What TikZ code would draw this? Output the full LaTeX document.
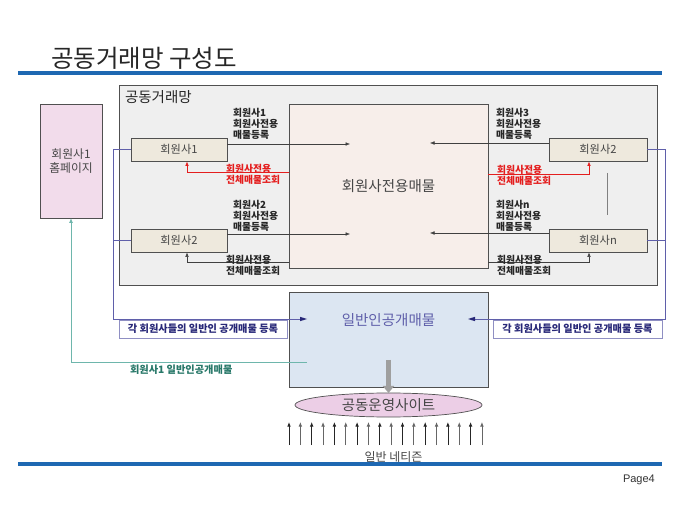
\documentclass[tikz,border=0pt]{standalone}
\usepackage{fontspec}
\setmainfont{Noto Sans CJK KR}
\newfontfamily\latfont{Liberation Sans}
\usetikzlibrary{arrows.meta,shapes.geometric,calc}
\definecolor{bandblue}{RGB}{30,104,178}
\definecolor{outerfill}{RGB}{239,239,239}
\definecolor{centerfill}{RGB}{247,238,234}
\definecolor{memfill}{RGB}{238,233,221}
\definecolor{pinkfill}{RGB}{242,220,235}
\definecolor{pubfill}{RGB}{220,230,242}
\definecolor{ellfill}{RGB}{236,206,230}
\definecolor{slate}{RGB}{95,95,170}
\definecolor{navytxt}{RGB}{40,40,120}
\definecolor{tealline}{RGB}{110,182,172}
\definecolor{tealtxt}{RGB}{40,120,105}
\definecolor{redc}{RGB}{228,30,30}
\definecolor{edge}{RGB}{80,80,80}
\definecolor{txtgray}{RGB}{70,70,70}
\begin{document}
\begin{tikzpicture}[x=1pt,y=-1pt,
  every node/.style={inner sep=0pt,outer sep=0pt},
  boxbase/.style={draw=edge,line width=0.8pt,rectangle},
  membox/.style={boxbase,fill=memfill,minimum width=96pt,minimum height=23pt,
    font=\fontsize{11.2}{13}\selectfont,text=txtgray},
  lbl/.style={font=\bfseries\fontsize{9.8}{11}\selectfont,align=left,anchor=north west,text=black!85},
  redlbl/.style={lbl,text=redc},
  tip/.style={-{Latex[length=4.5pt,width=3.6pt]}},
  flow/.style={tip,line width=0.5pt,draw=black!75},
  redflow/.style={tip,line width=0.7pt,draw=redc},
  blueflow/.style={line width=0.6pt,draw=slate},
  tagbox/.style={draw=slate!70,line width=0.6pt,fill=white,minimum height=18pt,
    font=\bfseries\fontsize{10.2}{11}\selectfont,text=navytxt},
  bigtxt/.style={font=\fontsize{14.5}{16}\selectfont}
]
\useasboundingbox (0,0) rectangle (680,510);
\fill[white] (0,0) rectangle (680,510);

% title and bands
\node[anchor=base west,font=\fontsize{24.5}{26}\selectfont,text=black!85] (title) at (51,67.5) {공동거래망 구성도};
\draw[bandblue,line width=4.2pt] (18,73) -- (662,73);
\draw[bandblue,line width=4.2pt] (18,464) -- (662,464);
\node[anchor=base west,font=\latfont\fontsize{11}{13}\selectfont,text=black!80] (page) at (623,482) {Page4};

% outer network box
\node[boxbase,fill=outerfill,minimum width=538pt,minimum height=200pt] (outer) at (388,185) {};
\node[anchor=west,bigtxt,text=black!85] (outerlbl) at (125,97) {공동거래망};

% center box
\node[boxbase,fill=centerfill,minimum width=199pt,minimum height=164pt,
  bigtxt,text=txtgray] (center) at (388.5,186) {회원사전용매물};

% member boxes
\node[membox] (m1) at (179,149.5) {회원사1};
\node[membox] (m2) at (179,240.5) {회원사2};
\node[membox,minimum width=98pt] (r2) at (598,149.5) {회원사2};
\node[membox,minimum width=98pt] (rn) at (598,240.5) {회원사n};

% homepage
\node[boxbase,fill=pinkfill,minimum width=62pt,minimum height=114pt,align=center,
  font=\fontsize{11.8}{14}\selectfont,text=txtgray] (home) at (71,161) {회원사1\\홈페이지};

% public box
\node[boxbase,fill=pubfill,minimum width=199pt,minimum height=95pt] (pub) at (388.5,339.5) {};
\node[bigtxt,text=slate] (publbl) at (388.5,320) {일반인공개매물};

% ellipse
\node[ellipse,draw=edge,line width=0.7pt,fill=ellfill,minimum width=187pt,minimum height=24pt,
  bigtxt,text=txtgray] (site) at (388.5,405) {공동운영사이트};

% tag boxes
\node[tagbox,minimum width=168pt] (tagl) at (203,329) {각 회원사들의 일반인 공개매물 등록};
\node[tagbox,minimum width=169pt] (tagr) at (577.5,329) {각 회원사들의 일반인 공개매물 등록};

% free-end coordinates
\coordinate (a1) at (350,144);
\coordinate (a2) at (350,234);
\coordinate (a3) at (430,143);
\coordinate (a4) at (430,233);

% registration arrows
\draw[flow] (m1.east |- a1) -- (a1);
\draw[flow] (m2.east |- a2) -- (a2);
\draw[flow] (r2.west |- a3) -- (a3);
\draw[flow] (rn.west |- a4) -- (a4);

% query returns
\draw[redflow] (center.west |- 0,172) -| (187,161.4);
\draw[flow] (center.west |- 0,262) -| (187,252.4);
\draw[redflow] (center.east |- 0,174) -| (589,161.4);
\draw[flow] (center.east |- 0,262) -| (589,252.4);

% continuation line
\draw[gray,line width=0.6pt] (607,173) -- (607,215);

% labels
\node[lbl] (l1) at (233,108.5) {회원사1\\회원사전용\\매물등록};
\node[redlbl] (l1r) at (226,164) {회원사전용\\전체매물조회};
\node[lbl] (l2) at (233,200) {회원사2\\회원사전용\\매물등록};
\node[lbl] (l2r) at (226,255) {회원사전용\\전체매물조회};
\node[lbl] (l3) at (496,108) {회원사3\\회원사전용\\매물등록};
\node[redlbl] (l3r) at (497,165) {회원사전용\\전체매물조회};
\node[lbl] (l4) at (496,200) {회원사n\\회원사전용\\매물등록};
\node[lbl] (l4r) at (497,255) {회원사전용\\전체매물조회};

% blue public registration lines
\coordinate (pl) at (303,319);
\coordinate (pr) at (472,319);
\draw[blueflow] (m1.west) -- (113,149.5) -- (113,319) -- (pl);
\draw[blueflow] (m2.west) -- (113,240.5);
\draw[blueflow] (r2.east) -- (665,149.5) -- (665,319) -- (pr);
\draw[blueflow] (rn.east) -- (665,240.5);
\fill[navytxt] (pl) ++(4,0) -- ++(-7,-2.2) -- ++(0,4.4) -- cycle;
\fill[navytxt] (pr) ++(-4,0) -- ++(7,-2.2) -- ++(0,4.4) -- cycle;

% teal line to homepage
\draw[tealline,line width=1pt,-{Latex[length=5pt,width=4pt,fill=tealtxt]}] (307,363) -| (home.south);
\node[anchor=west,font=\bfseries\fontsize{10.2}{11}\selectfont,text=tealtxt] (teallbl) at (130,370) {회원사1 일반인공개매물};

% thick gray arrow
\draw[gray!75,line width=4.5pt,-{Triangle[length=7pt,width=11pt]}] (388.5,360) -- (site.north);

% netizen arrows
\foreach \i in {0,...,17}{
  \pgfmathsetmacro{\xx}{289+\i*11.35}
  \ifodd\i
    \draw[gray!80!black,line width=0.8pt,-{Latex[length=4.5pt,width=3.6pt]}] (\xx,445) -- (\xx,422);
  \else
    \draw[black!85,line width=0.8pt,-{Latex[length=4.5pt,width=3.6pt]}] (\xx,445) -- (\xx,422);
  \fi
}
\node[font=\fontsize{12}{13}\selectfont,text=txtgray] (netz) at (393.5,457) {일반 네티즌};
\end{tikzpicture}
\end{document}
